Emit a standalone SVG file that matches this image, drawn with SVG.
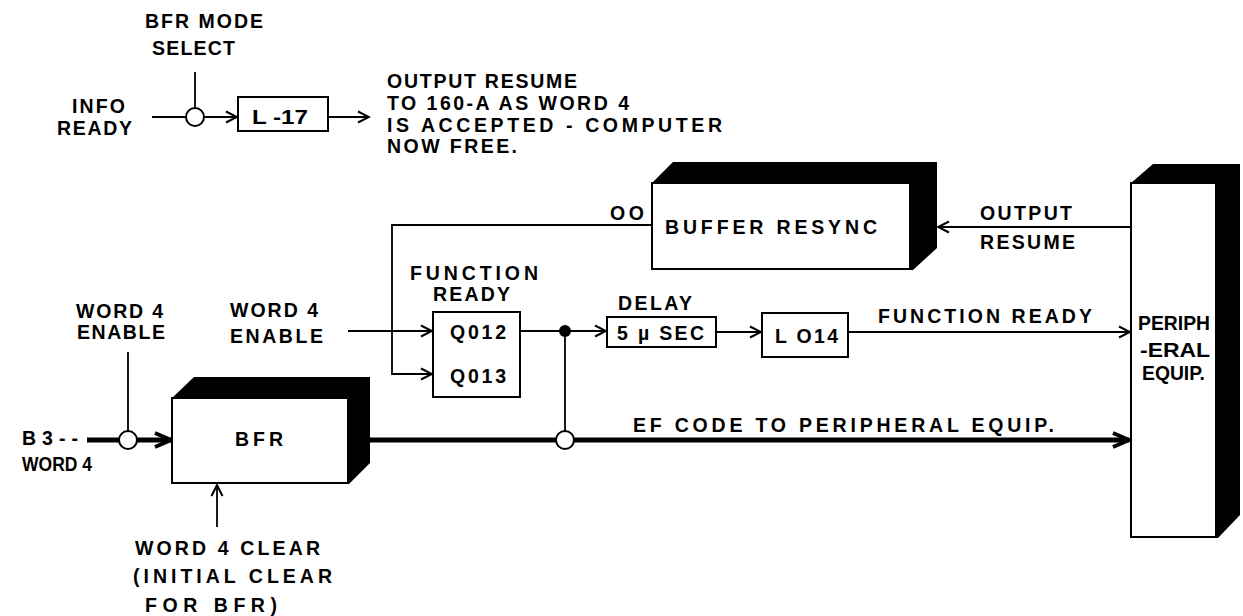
<svg xmlns="http://www.w3.org/2000/svg" width="1243" height="616" viewBox="0 0 1243 616">
<style>
text{font-family:"Liberation Sans",Arial,sans-serif;font-weight:bold;font-size:19.5px;fill:#000}
.box{fill:#fff;stroke:#000;stroke-width:2}
.shade{fill:#000}
.w{fill:none;stroke:#000;stroke-width:1.8}
.tk{fill:none;stroke:#000;stroke-width:5}
.ring{fill:#fff;stroke:#000;stroke-width:2}
</style>
<defs>
<marker id="a" markerWidth="16" markerHeight="14" refX="14" refY="7" orient="auto" markerUnits="userSpaceOnUse">
<path d="M3,1.5 L14,7 L3,12.5" fill="none" stroke="#000" stroke-width="2"/>
</marker>
<marker id="ta" markerWidth="22" markerHeight="18" refX="20" refY="9" orient="auto" markerUnits="userSpaceOnUse">
<path d="M4,2 L20,9 L4,16" fill="none" stroke="#000" stroke-width="4"/>
</marker>
</defs>

<g id="connectors">
<line class="w" x1="195" y1="72" x2="195" y2="108"/>
<line class="w" x1="152" y1="117" x2="186" y2="117"/>
<line class="w" x1="204" y1="117" x2="237" y2="117" marker-end="url(#a)"/>
<line class="w" x1="328" y1="117" x2="369" y2="117" marker-end="url(#a)"/>
<polyline class="w" points="652,225 392,225 392,374 432,374" marker-end="url(#a)"/>
<line class="w" x1="348" y1="331" x2="432" y2="331" marker-end="url(#a)"/>
<line class="w" x1="520" y1="331" x2="606" y2="331" marker-end="url(#a)"/>
<circle cx="565" cy="331" r="6" fill="#000"/>
<line class="w" x1="716" y1="332" x2="761" y2="332" marker-end="url(#a)"/>
<line class="w" x1="848" y1="332" x2="1130" y2="332" marker-end="url(#a)"/>
<line class="w" x1="1131" y1="227" x2="938" y2="227" marker-end="url(#a)"/>
<line class="w" x1="565" y1="331" x2="565" y2="431"/>
<line class="w" x1="128" y1="352" x2="128" y2="431"/>
<line class="w" x1="217" y1="527" x2="217" y2="485" marker-end="url(#a)"/>
<line class="tk" x1="87" y1="440" x2="119" y2="440"/>
<line class="tk" x1="137" y1="440" x2="171" y2="440" marker-end="url(#ta)"/>
<line class="tk" x1="370" y1="440" x2="556" y2="440"/>
<line class="tk" x1="574" y1="440" x2="1129" y2="440" marker-end="url(#ta)"/>
<circle class="ring" cx="195" cy="117" r="9"/>
<circle class="ring" cx="128" cy="440" r="9"/>
<circle class="ring" cx="565" cy="440" r="9"/>
</g>

<g id="l17">
<rect class="box" x="238" y="97" width="90" height="34"/>
<text x="252" y="124" textLength="56" lengthAdjust="spacingAndGlyphs">L -17</text>
</g>

<g id="buffer-resync">
<polygon class="shade" points="652,183 673,162 937,162 937,248 913,270 652,270"/>
<rect class="box" x="652" y="183" width="258" height="86"/>
<text x="665" y="234" textLength="212">BUFFER RESYNC</text>
</g>

<g id="q-box">
<rect class="box" x="433" y="312" width="87" height="85"/>
<text x="450" y="339" textLength="56">Q012</text>
<text x="450" y="383" textLength="56">Q013</text>
</g>

<g id="delay">
<rect class="box" x="607" y="317" width="109" height="30"/>
<text x="617" y="340" textLength="87">5 µ SEC</text>
</g>

<g id="l014">
<rect class="box" x="762" y="313" width="86" height="44"/>
<text x="775" y="343" textLength="63">L O14</text>
</g>

<g id="bfr">
<polygon class="shade" points="172,398 194,377 370,377 370,463 349,484 172,484"/>
<rect class="box" x="172" y="398" width="176" height="85"/>
<text x="235" y="446" textLength="48">BFR</text>
</g>

<g id="periph">
<polygon class="shade" points="1131,183 1153,164 1240,164 1240,515 1218,538 1131,538"/>
<rect class="box" x="1131" y="183" width="85" height="354"/>
<text x="1138" y="330" textLength="72" lengthAdjust="spacingAndGlyphs">PERIPH</text>
<text x="1140" y="357" textLength="70" lengthAdjust="spacingAndGlyphs">-ERAL</text>
<text x="1142" y="380" textLength="63" lengthAdjust="spacingAndGlyphs">EQUIP.</text>
</g>

<g id="labels">
<text x="145" y="28" textLength="118">BFR MODE</text>
<text x="152" y="55" textLength="83">SELECT</text>
<text x="72" y="113" textLength="53">INFO</text>
<text x="57" y="135" textLength="75">READY</text>
<text x="387" y="88" textLength="190">OUTPUT RESUME</text>
<text x="387" y="110" textLength="242">TO 160-A AS WORD 4</text>
<text x="387" y="132" textLength="335">IS ACCEPTED - COMPUTER</text>
<text x="387" y="153" textLength="130">NOW FREE.</text>
<text x="610" y="220" textLength="34">OO</text>
<text x="980" y="220" textLength="92">OUTPUT</text>
<text x="980" y="249" textLength="95">RESUME</text>
<text x="410" y="280" textLength="128">FUNCTION</text>
<text x="433" y="301" textLength="77">READY</text>
<text x="76" y="318" textLength="87">WORD 4</text>
<text x="77" y="339" textLength="88">ENABLE</text>
<text x="230" y="317" textLength="88">WORD 4</text>
<text x="230" y="343" textLength="93">ENABLE</text>
<text x="618" y="310" textLength="74">DELAY</text>
<text x="878" y="323" textLength="214">FUNCTION READY</text>
<text x="633" y="432" textLength="421">EF CODE TO PERIPHERAL EQUIP.</text>
<text x="22" y="445" textLength="56">B3--</text>
<text x="22" y="471" textLength="70" lengthAdjust="spacingAndGlyphs">WORD 4</text>
<text x="135" y="555" textLength="185">WORD 4 CLEAR</text>
<text x="133" y="583" textLength="199">(INITIAL CLEAR</text>
<text x="145" y="612" textLength="132">FOR BFR)</text>
</g>
</svg>
